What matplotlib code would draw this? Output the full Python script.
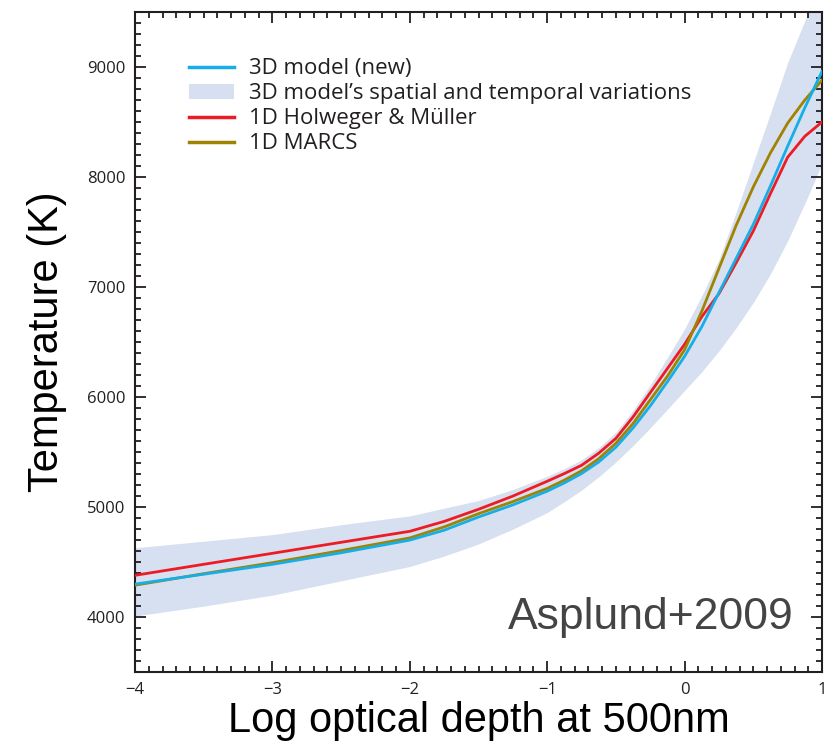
import matplotlib
matplotlib.use('Agg')
import matplotlib.pyplot as plt
from matplotlib.ticker import MultipleLocator
from matplotlib.lines import Line2D
from matplotlib.patches import Patch

# log optical depth grid
log_tau = [-4, -3.5, -3, -2.5, -2, -1.75, -1.5, -1.25, -1, -0.875, -0.75, -0.625,
           -0.5, -0.375, -0.25, -0.125, 0, 0.125, 0.25, 0.375, 0.5, 0.625, 0.75, 0.875, 1]

T_3d = [4300, 4390, 4480, 4585, 4700, 4790, 4910, 5020, 5145, 5220, 5305, 5410,
        5545, 5720, 5920, 6140, 6370, 6640, 6950, 7260, 7570, 7920, 8280, 8630, 8960]
T_hm = [4380, 4480, 4580, 4680, 4780, 4870, 4980, 5100, 5235, 5305, 5380, 5490,
        5625, 5820, 6040, 6260, 6480, 6730, 6940, 7220, 7510, 7850, 8180, 8370, 8500]
T_marcs = [4290, 4395, 4495, 4605, 4720, 4820, 4940, 5050, 5170, 5245, 5330, 5440,
           5580, 5760, 5975, 6190, 6430, 6780, 7170, 7560, 7910, 8220, 8490, 8700, 8880]
band_hi = [4630, 4690, 4750, 4840, 4920, 4990, 5060, 5160, 5280, 5350, 5430, 5540,
           5680, 5880, 6110, 6360, 6620, 6920, 7250, 7680, 8130, 8580, 9040, 9420, 9800]
band_lo = [4010, 4100, 4200, 4330, 4460, 4555, 4665, 4800, 4950, 5050, 5155, 5275,
           5410, 5560, 5720, 5890, 6060, 6230, 6420, 6630, 6860, 7120, 7420, 7760, 8120]

labels = ['3D model (new)', "3D model\u2019s spatial and temporal variations",
          '1D Holweger & M\u00fcller', '1D MARCS']

c_blue = '#16aee6'
c_red = '#ed1c24'
c_olive = '#a08300'
c_band = '#d6e0f1'

fig = plt.figure(figsize=(8.31, 7.46), dpi=100)
ax = fig.add_axes([0.1625, 0.099, 0.8267, 0.885])

ax.fill_between(log_tau, band_lo, band_hi, color=c_band, lw=0, zorder=1)
ax.plot(log_tau, T_hm, color=c_red, lw=2, zorder=3)
ax.plot(log_tau, T_marcs, color=c_olive, lw=2, zorder=3)
ax.plot(log_tau, T_3d, color=c_blue, lw=2, zorder=4)

ax.set_xlim(-4, 1)
ax.set_ylim(3500, 9500)
ax.xaxis.set_major_locator(MultipleLocator(1))
ax.xaxis.set_minor_locator(MultipleLocator(0.1))
ax.yaxis.set_major_locator(MultipleLocator(1000))
ax.yaxis.set_minor_locator(MultipleLocator(100))
ax.tick_params(which='both', direction='in', top=True, right=True,
               color='#231f20', width=1.3, labelsize=12, labelcolor='#231f20')
ax.tick_params(which='major', length=8, pad=7)
ax.tick_params(which='minor', length=4.5)
for tl in ax.get_xticklabels() + ax.get_yticklabels():
    tl.set_family('Open Sans')
for s in ax.spines.values():
    s.set_linewidth(1.5)
    s.set_color('#231f20')

ax.set_xlabel('Log optical depth at 500nm', fontsize=30, family='Liberation Sans', labelpad=2)
ax.set_ylabel('Temperature (K)', fontsize=30, family='Liberation Sans', labelpad=14)

handles = [Line2D([], [], color=c_blue, lw=2.5),
           Patch(facecolor=c_band, edgecolor='none'),
           Line2D([], [], color=c_red, lw=2.5),
           Line2D([], [], color=c_olive, lw=2.5)]
leg = ax.legend(handles, labels, loc='upper left', bbox_to_anchor=(0.05, 0.96),
                frameon=False, handlelength=2.0, handletextpad=0.7, labelspacing=0.18,
                prop={'family': 'Open Sans', 'size': 16})
for t in leg.get_texts():
    t.set_color('#231f20')

ax.text(0.79, 3890, 'Asplund+2009', fontsize=32, family='Liberation Sans',
        color='#444444', ha='right', va='baseline')

fig.savefig('out.png', dpi=100)
